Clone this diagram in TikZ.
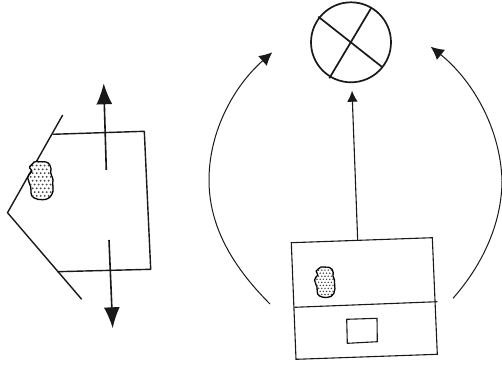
\documentclass[tikz,border=0pt]{standalone}
\usetikzlibrary{arrows.meta}
\tikzset{
  x=1pt,y=-1pt,
  wall/.style={line width=1.4pt,line join=round,black!90},
  thinwall/.style={line width=1.1pt,line join=miter,black!90},
  curve/.style={line width=1pt,-{Latex[length=13pt,width=13pt]},black!90},
  stem/.style={line width=1.1pt,-{Latex[length=11pt,width=10.5pt]},black!90},
  bigarrow/.style={line width=1.6pt,-{Latex[length=21pt,width=16pt]},black!90},
  crossbar/.style={line width=1.7pt,black!90},
  wheel/.style={circle,draw=black!90,line width=1.7pt,minimum size=80pt,inner sep=0pt},
  blobline/.style={line width=1.3pt,draw=black,fill=white}
}
\newcommand{\cellblob}[3]{%
  \begin{scope}[shift={(#1,#2)},scale=#3]
    \def\blobpath{(-8,-17) to[out=70,in=180] (0,-19) to[out=0,in=120] (9,-16)
      to[out=-60,in=80] (10,-8) to[out=-80,in=70] (12,2) to[out=-90,in=60] (11,14)
      to[out=-120,in=0] (2,19) to[out=180,in=-30] (-7,17) to[out=150,in=-80] (-10,6)
      to[out=100,in=-90] (-13,-3) to[out=90,in=-120] (-9,-9) to[out=60,in=-120] (-11,-14) to[out=60,in=-110] cycle}
    \draw[blobline] \blobpath;
    \clip \blobpath;
    \foreach \i in {-5,...,5}{
      \foreach \j in {-5,...,5}{
        \fill[black!75] ({\i*4+mod(abs(\j),2)*2},{\j*3.8}) circle (1);
      }
    }
  \end{scope}%
}
\begin{document}
\begin{tikzpicture}
\useasboundingbox (0,0) rectangle (502,369);
\fill[white] (0,0) rectangle (502,369);
% left cell
\coordinate (wallTop) at (62.7,115);
\coordinate (wallApex) at (7.5,212.7);
\coordinate (wallEnd) at (81.7,299.3);
\coordinate (boxA) at (52.7,134.3);
\coordinate (boxB) at (144.3,131.3);
\coordinate (boxC) at (150.7,269.3);
\coordinate (boxD) at (57.3,271.7);
\coordinate (upStart) at (106.3,170);
\coordinate (upTip) at (103.7,83.3);
\coordinate (downStart) at (109,240);
\coordinate (downTip) at (112.7,328.3);
\draw[wall] (wallTop) -- (wallApex) -- (wallEnd);
\draw[wall] (boxA) -- (boxB) -- (boxC) -- (boxD);
\draw[bigarrow] (upStart) -- (upTip);
\draw[bigarrow] (downStart) -- (downTip);
\cellblob{40.7}{180.7}{1}
% wheel
\node[wheel] (w) at (351,42.3) {};
\coordinate (c1) at (318.3,16.7);
\coordinate (c2) at (381.7,66.7);
\coordinate (c3) at (371,8.3);
\coordinate (c4) at (329.3,78.3);
\draw[crossbar] (c1) -- (c2);
\draw[crossbar] (c3) -- (c4);
% right box
\coordinate (rA) at (291.3,242.7);
\coordinate (rB) at (432.3,237.7);
\coordinate (rC) at (437.3,354.3);
\coordinate (rD) at (296,359.3);
\coordinate (rE) at (294.3,307.3);
\coordinate (rF) at (437.3,301.7);
\coordinate (iA) at (346.7,319.3);
\coordinate (iB) at (377,318.3);
\coordinate (iC) at (377.3,341.7);
\coordinate (iD) at (347.3,343.3);
\draw[thinwall] (rA) -- (rB) -- (rC) -- (rD) -- cycle;
\draw[thinwall] (rE) -- (rF);
\draw[thinwall] (iA) -- (iB) -- (iC) -- (iD) -- cycle;
\cellblob{325}{282.3}{0.8}
% arrows to wheel
\coordinate (midStart) at (357.7,240.7);
\coordinate (midTip) at (352,90.7);
\draw[stem] (midStart) -- (midTip);
\coordinate (lStart) at (270,304);
\coordinate (lTip) at (272.3,52.3);
\coordinate (rStart) at (453,298.3);
\coordinate (rTip) at (430.7,46.7);
\draw[curve] (lStart) .. controls (228,262) and (209,222) .. (209,180) .. controls (209,130) and (235,85) .. (lTip);
\draw[curve] (rStart) .. controls (485,262) and (502,220) .. (502,180) .. controls (500,125) and (470,78) .. (rTip);
\end{tikzpicture}
\end{document}
